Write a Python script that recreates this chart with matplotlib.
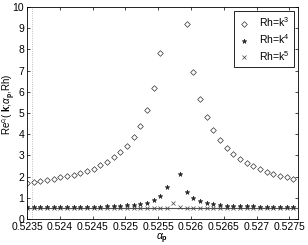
import numpy as np
import matplotlib
matplotlib.use('Agg')
import matplotlib.pyplot as plt

plt.rcParams['font.family'] = 'Liberation Sans'
plt.rcParams['font.size'] = 7.5
plt.rcParams['mathtext.fontset'] = 'custom'
plt.rcParams['mathtext.rm'] = 'Liberation Sans'
plt.rcParams['mathtext.it'] = 'Liberation Sans:italic'
plt.rcParams['mathtext.bf'] = 'Liberation Sans:bold'

# alpha_p samples (41 points)
alpha_p = [0.523500, 0.523602, 0.523703, 0.523805, 0.523906, 0.524008, 0.524109,
           0.524211, 0.524312, 0.524414, 0.524515, 0.524617, 0.524718, 0.524820,
           0.524921, 0.525023, 0.525124, 0.525226, 0.525327, 0.525429, 0.525530,
           0.525632, 0.525733, 0.525835, 0.525936, 0.526038, 0.526139, 0.526241,
           0.526342, 0.526444, 0.526545, 0.526647, 0.526748, 0.526850, 0.526951,
           0.527053, 0.527154, 0.527256, 0.527357, 0.527459, 0.527560]

# Rh = k^3
re_k3 = [1.70, 1.73, 1.78, 1.85, 1.90, 1.97, 2.03, 2.10, 2.17, 2.25,
         2.38, 2.53, 2.70, 2.92, 3.15, 3.45, 3.87, 4.40, 5.15, 6.18,
         7.82, 11.5, 14.0, 12.0, 9.19, 6.95, 5.67, 4.82, 4.18, 3.71,
         3.35, 3.08, 2.84, 2.65, 2.51, 2.37, 2.24, 2.13, 2.04, 1.96, 1.88]

# Rh = k^4
re_k4 = [0.55, 0.55, 0.55, 0.55, 0.56, 0.56, 0.56, 0.57, 0.57, 0.58,
         0.58, 0.59, 0.60, 0.61, 0.62, 0.64, 0.66, 0.70, 0.77, 0.90,
         1.09, 1.50, 12.0, 2.13, 1.26, 0.98, 0.84, 0.74, 0.70, 0.66,
         0.63, 0.62, 0.61, 0.60, 0.60, 0.59, 0.59, 0.58, 0.58, 0.58, 0.58]

# Rh = k^5
re_k5 = [0.52, 0.52, 0.52, 0.52, 0.52, 0.52, 0.52, 0.52, 0.52, 0.52,
         0.52, 0.52, 0.52, 0.52, 0.52, 0.52, 0.52, 0.52, 0.52, 0.52,
         0.52, 0.53, 0.74, 0.56, 0.52, 0.52, 0.52, 0.52, 0.52, 0.52,
         0.52, 0.52, 0.52, 0.52, 0.52, 0.52, 0.52, 0.52, 0.52, 0.52, 0.52]

baseline = 0.52
vline_x = 0.52358

xticks = [0.5235, 0.524, 0.5245, 0.525, 0.5255, 0.526, 0.5265, 0.527, 0.5275]
xticklabels = ['0.5235', '0.524', '0.5245', '0.525', '0.5255', '0.526', '0.5265', '0.527', '0.5275']

fig = plt.figure(figsize=(3.08, 2.45), dpi=100)
ax = fig.add_axes([0.088, 0.106, 0.879, 0.865])

ax.axhline(baseline, color='#555555', linewidth=0.8, zorder=1)
ax.axvline(vline_x, color='#aaaaaa', linewidth=0.6, linestyle=':', zorder=1)

ax.plot(alpha_p, re_k3, linestyle='none', marker='D', markersize=2.9,
        mfc='none', mec='#333333', mew=0.5, label='Rh=k$^3$')
ax.plot(alpha_p, re_k4, linestyle='none', marker='*', markersize=3.5,
        mfc='#222222', mec='#222222', mew=0.4, label='Rh=k$^4$')
ax.plot(alpha_p, re_k5, linestyle='none', marker='x', markersize=2.5,
        mec='#444444', mew=0.5, label='Rh=k$^5$')

ax.set_xlim(0.5235, 0.52763)
ax.set_ylim(0, 10)
ax.set_xticks(xticks)
ax.set_xticklabels(xticklabels)
ax.set_yticks(range(0, 11))
ax.tick_params(direction='in', top=True, right=True, length=2.5, width=0.5, pad=2)
for s in ax.spines.values():
    s.set_linewidth(0.6)

ax.set_xlabel(r'$\alpha_{\mathbf{p}}$', labelpad=0)
ax.set_ylabel(r'Re$^{c_l}$( $\mathbf{k}$;$\alpha_{\mathbf{p}}$,Rh)', fontsize=7)
ax.yaxis.set_label_coords(-0.036, 0.54)

leg = ax.legend(loc='upper right', fancybox=False, edgecolor='black', framealpha=1,
                borderaxespad=0.4, handlelength=1.2, handletextpad=0.8,
                borderpad=0.4, labelspacing=0.3, fontsize=7.5)
leg.get_frame().set_linewidth(0.6)

fig.savefig('out.png', dpi=100)
